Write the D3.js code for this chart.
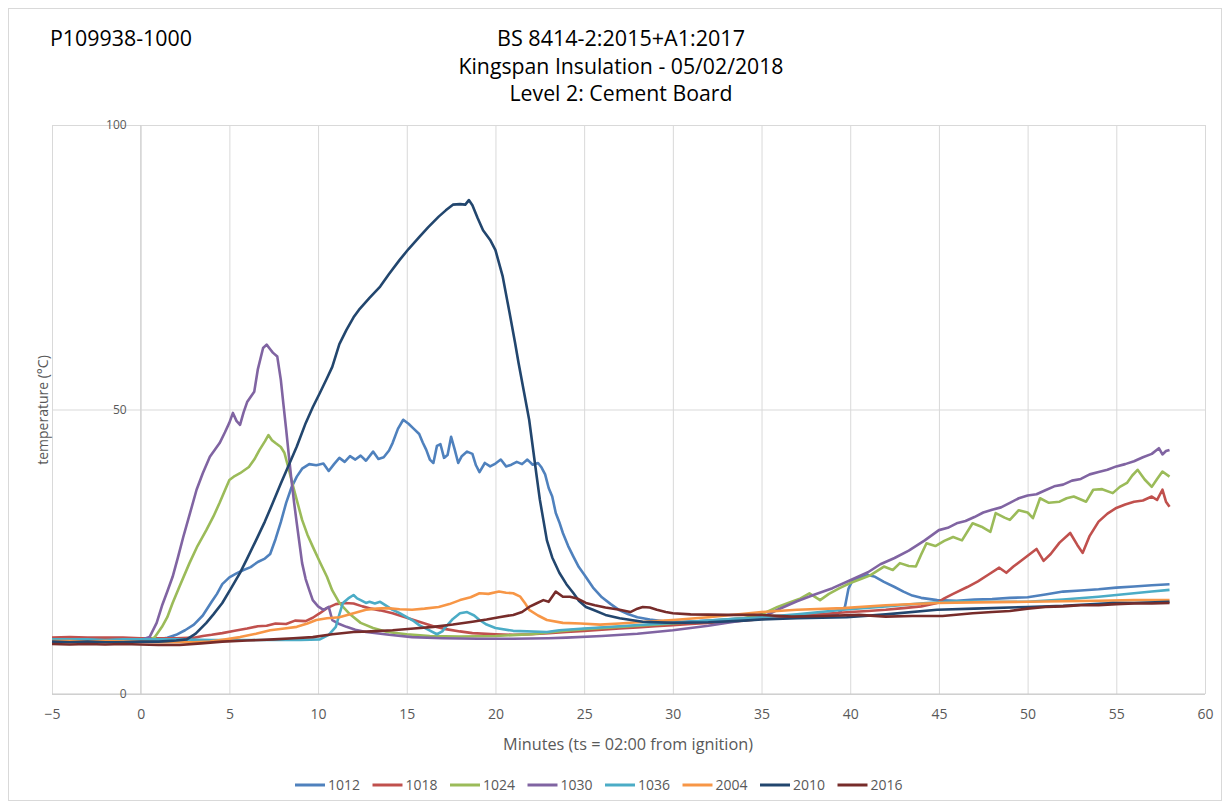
<!DOCTYPE html>
<html>
<head>
<meta charset="utf-8">
<script src="https://cdn.jsdelivr.net/npm/d3@7"></script>
<style>
  body { margin: 0; background: #fff; }
  svg { display: block; }
</style>
</head>
<body>
<script>
// thermocouple channels, [minutes, °C]
const s1012 = [[-5,9.6],[-4,9.7],[-3,9.6],[-2,9.6],[-1,9.5],[0,9.5],[1,9.6],[1.5,9.9],[2,10.4],[2.5,11.2],[3,12.2],[3.5,13.8],[4,16.2],[4.3,17.6],[4.6,19.3],[5,20.5],[5.4,21.2],[5.8,21.8],[6.2,22.3],[6.6,23.2],[7,23.8],[7.3,24.6],[7.6,27.2],[7.9,30.2],[8.2,33.6],[8.5,36.3],[8.8,38.2],[9.1,39.6],[9.5,40.4],[9.9,40.2],[10.3,40.5],[10.6,39.2],[10.9,40.4],[11.2,41.5],[11.5,40.8],[11.8,41.8],[12.1,41.2],[12.4,41.9],[12.7,41.0],[13.1,42.6],[13.4,41.3],[13.7,41.6],[14.0,42.8],[14.2,44.1],[14.5,46.6],[14.8,48.2],[15.1,47.5],[15.4,46.6],[15.7,45.7],[15.9,44.2],[16.1,42.9],[16.3,41.2],[16.5,40.6],[16.7,43.6],[16.9,43.9],[17.1,41.5],[17.3,42.0],[17.5,45.2],[17.7,43.0],[17.9,40.6],[18.1,41.8],[18.4,42.6],[18.7,42.2],[18.9,40.2],[19.1,39.0],[19.4,40.6],[19.7,40.0],[20.0,40.5],[20.3,41.2],[20.6,40.0],[20.9,40.3],[21.2,40.8],[21.5,40.4],[21.8,41.2],[22.1,40.3],[22.4,40.6],[22.6,39.8],[22.8,38.6],[23.0,36.2],[23.2,34.7],[23.4,31.8],[23.6,30.2],[23.8,28.3],[24.1,26.0],[24.4,24.1],[24.7,22.3],[25.0,21.0],[25.5,18.7],[26.0,17.0],[26.5,15.8],[27.0,14.7],[27.5,14.0],[28.0,13.5],[28.7,13.1],[29.5,12.8],[30.5,12.7],[31.5,12.8],[32.5,13.0],[33.5,13.2],[34.5,13.4],[35.5,13.6],[36.5,13.7],[37.5,13.8],[38.5,14.0],[39.3,14.1],[39.7,15.3],[39.9,18.5],[40.1,19.8],[40.5,20.4],[41.0,20.9],[41.4,20.6],[41.9,19.7],[42.5,18.8],[43.0,18.0],[43.5,17.3],[44.0,16.9],[44.9,16.5],[46,16.4],[47,16.6],[48,16.7],[49,16.9],[50,17.0],[51,17.5],[52,18.0],[53,18.2],[54,18.4],[55,18.7],[56,18.9],[57,19.1],[58,19.3]]
const s1018 = [[-5,9.9],[-4,10.0],[-3,9.9],[-2,9.9],[-1,9.9],[0,9.8],[1,9.8],[2,9.8],[3,9.9],[3.5,10.2],[4,10.4],[4.6,10.7],[5.3,11.1],[6,11.5],[6.6,11.9],[7.1,12.0],[7.6,12.4],[8.2,12.3],[8.7,12.9],[9.3,12.8],[9.7,13.4],[10.1,14.2],[10.5,15.1],[11,15.8],[11.5,16.0],[12,15.9],[12.5,15.4],[13,15.0],[13.5,14.7],[14.2,14.2],[15,13.4],[15.7,12.7],[16.5,11.9],[17.2,11.4],[18,11.0],[18.7,10.7],[20,10.5],[21,10.4],[22,10.5],[23,10.7],[24,10.9],[25,11.1],[26,11.3],[27,11.5],[28,11.7],[29,11.9],[30,12.1],[31,12.3],[32,12.5],[33,12.7],[34,12.9],[35,13.2],[36,13.4],[37,13.7],[38,13.9],[39,14.2],[40,14.4],[41,14.6],[42,14.8],[43,15.1],[44,15.4],[44.9,16.0],[45.3,16.8],[45.8,17.6],[46.6,18.8],[47.2,19.8],[47.8,21.0],[48.4,22.2],[48.8,21.3],[49.2,22.4],[49.8,23.8],[50.5,25.5],[50.9,23.4],[51.3,24.6],[51.8,26.6],[52.4,28.3],[52.8,26.2],[53.1,24.8],[53.5,27.8],[54,30.3],[54.5,31.7],[55,32.7],[55.5,33.3],[56,33.8],[56.5,34.0],[57,34.7],[57.3,34.1],[57.6,35.9],[57.8,33.8],[58,32.9]]
const s1024 = [[-5,9.4],[-4,9.5],[-3,9.4],[-2,9.4],[-1,9.3],[0,9.4],[0.5,9.5],[0.8,10.0],[1.2,11.8],[1.5,13.5],[1.8,16.0],[2.2,19.0],[2.75,23.0],[3.2,26.0],[3.7,28.8],[4.1,31.2],[4.45,33.6],[4.75,35.8],[5.0,37.6],[5.3,38.3],[5.6,38.8],[6.1,39.9],[6.4,41.2],[6.7,42.9],[7.0,44.4],[7.2,45.5],[7.4,44.6],[7.6,44.1],[7.9,43.4],[8.1,42.4],[8.35,39.5],[8.6,36.4],[8.85,33.5],[9.1,30.6],[9.4,28.0],[9.7,25.9],[10.1,23.2],[10.5,20.6],[10.8,18.2],[11.2,16.0],[11.8,14.0],[12.4,12.5],[13.1,11.6],[13.9,10.9],[15,10.5],[16.3,10.2],[18,10.1],[20,10.2],[22,10.5],[23.8,11.1],[25,11.4],[27,11.8],[30,12.4],[32,12.8],[34,13.3],[35,14.0],[35.9,15.3],[36.5,16.0],[37.2,16.8],[37.7,17.7],[38.3,16.5],[38.8,17.6],[39.4,18.6],[40,19.5],[40.6,20.2],[41.1,20.8],[41.5,21.6],[41.9,22.4],[42.4,21.8],[42.8,23.0],[43.3,22.5],[43.7,22.4],[44.0,24.5],[44.3,26.5],[44.8,26.0],[45.3,26.9],[45.8,27.6],[46.3,27.0],[46.9,30.0],[47.4,29.4],[47.9,28.5],[48.2,31.8],[48.7,31.0],[49.0,30.6],[49.5,32.3],[50.0,31.9],[50.3,30.9],[50.7,34.4],[51.2,33.6],[51.8,33.8],[52.2,34.4],[52.6,34.7],[53.3,33.8],[53.7,35.9],[54.2,36.0],[54.8,35.3],[55.2,36.4],[55.6,37.1],[55.9,38.4],[56.2,39.4],[56.6,37.7],[57.0,36.4],[57.3,37.8],[57.6,39.1],[58,38.2]]
const s1030 = [[-5,9.4],[-4,9.4],[-3,9.3],[-2,9.4],[-1,9.4],[0,9.5],[0.5,10.0],[0.9,12.5],[1.2,15.5],[1.5,18.0],[1.8,20.6],[2.1,24.0],[2.4,27.6],[2.8,32.0],[3.15,35.9],[3.5,38.8],[3.9,41.7],[4.2,43.0],[4.45,44.1],[4.75,46.0],[5.0,47.7],[5.2,49.4],[5.4,48.0],[5.6,47.3],[5.8,49.5],[6.0,51.3],[6.4,53.1],[6.6,57.0],[6.9,60.8],[7.1,61.4],[7.3,60.6],[7.45,60.0],[7.7,59.3],[7.9,55.2],[8.05,50.8],[8.2,46.5],[8.35,42.0],[8.5,37.6],[8.65,33.6],[8.8,30.0],[9.1,23.0],[9.3,20.2],[9.5,18.3],[9.7,16.5],[10.0,15.4],[10.3,14.8],[10.6,15.3],[10.8,13.0],[11.2,12.3],[11.6,11.8],[12.1,11.3],[12.7,10.9],[14,10.4],[15.3,10.0],[17,9.8],[19,9.7],[21,9.7],[23,9.8],[24,9.9],[26,10.2],[28,10.6],[30,11.2],[32,12.0],[33,12.5],[35,13.4],[35.9,14.8],[37,16.3],[38,17.5],[39,18.6],[40,20.0],[41,21.4],[41.7,22.8],[42.5,23.9],[43.3,25.2],[44.2,27.0],[45,28.8],[45.5,29.2],[46,30.0],[46.5,30.4],[47,31.1],[47.5,31.9],[48,32.4],[48.5,32.8],[49,33.6],[49.5,34.4],[50,34.9],[50.5,35.1],[51,35.8],[51.5,36.5],[52,36.8],[52.5,37.5],[53,37.8],[53.5,38.6],[54,39.0],[54.5,39.4],[55,40.0],[55.5,40.4],[56,40.9],[56.5,41.6],[57,42.2],[57.4,43.2],[57.6,42.1],[57.8,42.7],[58,42.9]]
const s1036 = [[-5,9.6],[-4,9.6],[-3,9.6],[-2,9.5],[-1,9.6],[0,9.6],[2,9.6],[4,9.5],[6,9.5],[8,9.5],[9,9.5],[10.1,9.6],[10.6,10.4],[11.0,11.8],[11.2,14.0],[11.4,16.0],[11.7,16.8],[12.0,17.4],[12.2,16.8],[12.4,16.5],[12.7,16.0],[12.9,16.2],[13.2,15.9],[13.5,16.2],[13.9,15.4],[14.2,14.8],[14.6,14.2],[15.0,13.5],[15.4,12.8],[15.7,12.1],[16.2,11.3],[16.7,10.5],[17.0,11.0],[17.2,11.8],[17.6,13.2],[18.0,14.2],[18.4,14.4],[18.8,13.8],[19.1,13.0],[19.5,12.2],[20.0,11.6],[21.0,11.1],[22.9,10.9],[23.6,11.2],[25,11.5],[27,11.9],[30,12.5],[32,12.9],[35,13.5],[37,14.0],[39.6,14.8],[42,15.4],[44.3,16.0],[46,16.3],[48,16.2],[50,16.2],[52,16.6],[54,17.1],[55,17.4],[56,17.7],[57,18.0],[58,18.3]]
const s2004 = [[-5,9.3],[-4,9.3],[-3,9.2],[-2,9.3],[-1,9.2],[0,9.2],[1,9.1],[2,9.1],[3,9.1],[3.9,9.2],[4.8,9.6],[5.6,10.0],[6.5,10.6],[7.3,11.2],[8.1,11.5],[8.8,11.8],[9.4,12.4],[9.9,13.0],[10.5,13.3],[11.2,13.5],[11.8,14.0],[12.7,14.8],[13.3,15.0],[13.9,15.1],[14.6,14.9],[15.3,14.8],[16,15.0],[16.8,15.3],[17.4,15.8],[18,16.5],[18.6,17.0],[19.1,17.7],[19.6,17.6],[20.2,18.0],[20.6,17.8],[21,17.7],[21.4,17.1],[21.7,15.8],[21.9,14.8],[22.4,13.8],[22.9,13.0],[23.8,12.5],[24.8,12.4],[25.9,12.2],[27,12.4],[28,12.6],[30,13.0],[32,13.5],[33,13.8],[35,14.4],[37,14.8],[39.6,15.1],[42,15.6],[44.9,16.0],[47,16.1],[50,16.2],[52,16.3],[54,16.4],[56,16.5],[58,16.5]]
const s2010 = [[-5,9.2],[-4,9.1],[-3,9.2],[-2,9.1],[-1,9.1],[0,9.2],[1,9.2],[1.5,9.3],[2,9.4],[2.6,9.6],[3.1,10.6],[3.7,12.5],[4.1,14.0],[4.6,16.0],[5.1,18.6],[5.6,21.3],[6.0,23.8],[6.5,27.0],[7.0,30.3],[7.45,33.6],[7.9,37.0],[8.4,40.6],[8.8,43.5],[9.3,47.6],[9.7,50.4],[10.1,52.9],[10.5,55.5],[10.8,57.5],[11.2,61.5],[11.6,64.0],[12.0,66.2],[12.3,67.5],[12.9,69.6],[13.5,71.6],[14.0,73.8],[14.6,76.3],[15.1,78.2],[15.7,80.3],[16.2,82.0],[16.8,83.9],[17.2,85.0],[17.6,86.0],[18.0,86.1],[18.3,86.0],[18.5,86.8],[18.7,85.9],[19.0,83.6],[19.3,81.5],[19.7,79.8],[20.0,78.0],[20.4,73.5],[20.8,66.9],[21.1,61.8],[21.3,58.2],[21.6,53.2],[21.9,48.2],[22.1,43.5],[22.3,38.8],[22.5,34.2],[22.7,30.6],[22.9,27.0],[23.2,24.0],[23.6,21.3],[24.0,19.3],[24.4,17.7],[24.7,16.4],[25.1,15.3],[25.5,14.8],[26.2,13.9],[27,13.3],[28.3,12.7],[30,12.5],[32,12.6],[34,12.9],[35,13.1],[37,13.3],[39.8,13.5],[42,14.0],[44.9,14.8],[47,15.0],[50,15.3],[52,15.5],[54.8,16.0],[56,16.0],[58,16.2]]
const s2016 = [[-5,8.8],[-4,8.7],[-3,8.8],[-2,8.7],[-1,8.8],[0,8.7],[1,8.6],[2.2,8.6],[3.4,8.9],[4.6,9.2],[6,9.4],[7.5,9.6],[8.6,9.8],[9.7,10.0],[10.8,10.5],[12,10.9],[13,11.0],[14.2,11.2],[15.4,11.5],[16.5,11.8],[17.6,12.2],[18.7,12.7],[19.5,13.1],[20.2,13.5],[21,13.9],[21.5,14.4],[21.9,15.3],[22.3,15.9],[22.7,16.5],[23.0,16.2],[23.4,18.0],[23.8,17.1],[24.2,17.1],[24.6,16.8],[25.1,16.0],[25.6,15.6],[26.2,15.2],[27,14.8],[27.6,14.4],[28,15.0],[28.3,15.3],[28.7,15.2],[29.1,14.8],[29.6,14.4],[30,14.2],[31,14.0],[33,13.9],[35,13.9],[36.7,13.6],[38.5,13.7],[40.5,13.9],[42,13.6],[43.5,13.7],[45.2,13.7],[46.9,14.2],[48,14.4],[49,14.6],[50,15.0],[51,15.3],[52,15.4],[53,15.6],[54,15.6],[55,15.8],[56,15.9],[57,15.9],[58,16.0]]

const names = ["1012", "1018", "1024", "1030", "1036", "2004", "2010", "2016"]
const seriesData = [s1012, s1018, s1024, s1030, s1036, s2004, s2010, s2016]
const colors = ["#4f81bd", "#c0504d", "#9bbb59", "#8064a2", "#4bacc6", "#f79646", "#22466e", "#772c2a"]
const xTicks = [-5, 0, 5, 10, 15, 20, 25, 30, 35, 40, 45, 50, 55, 60]
const yTicks = [0, 50, 100]
const titleLines = ["BS 8414-2:2015+A1:2017", "Kingspan Insulation  - 05/02/2018", "Level 2: Cement Board"]

let w = 1230
let h = 805
let pLeft = 52, pRight = 1205, pTop = 125, pBottom = 694
let narrow = "'Liberation Sans Narrow', 'Open Sans', sans-serif"

let svg = d3.select("body").append("svg")
    .attr("width", w)
    .attr("height", h)

svg.append("rect")
    .attr("x", 8.5).attr("y", 8.5)
    .attr("width", 1213).attr("height", 792)
    .attr("fill", "#fff")
    .attr("stroke", "#d9d9d9")

let xScale = d3.scaleLinear().domain([-5, 60]).range([pLeft, pRight])
let yScale = d3.scaleLinear().domain([0, 100]).range([pBottom, pTop])

// grid
svg.append("g")
    .attr("transform", "translate(0," + pBottom + ")")
    .call(d3.axisBottom(xScale).tickValues(xTicks).tickSize(-(pBottom - pTop)).tickFormat(""))
    .call(g => g.select(".domain").remove())
    .call(g => g.selectAll("line").attr("stroke", "#d9d9d9"))
svg.append("g")
    .attr("transform", "translate(" + pLeft + ",0)")
    .call(d3.axisLeft(yScale).tickValues(yTicks).tickSize(-(pRight - pLeft)).tickFormat(""))
    .call(g => g.select(".domain").remove())
    .call(g => g.selectAll("line").attr("stroke", "#d9d9d9"))

// axis lines
svg.append("line")
    .attr("x1", pLeft).attr("x2", pRight)
    .attr("y1", yScale(0)).attr("y2", yScale(0))
    .attr("stroke", "#c8c8c8")
svg.append("line")
    .attr("x1", xScale(0)).attr("x2", xScale(0))
    .attr("y1", pTop).attr("y2", pBottom)
    .attr("stroke", "#d0d0d0")

// tick labels
svg.append("g")
    .attr("transform", "translate(0," + pBottom + ")")
    .call(d3.axisBottom(xScale).tickValues(xTicks).tickSize(0).tickPadding(15))
    .call(g => g.select(".domain").remove())
    .call(g => g.selectAll("text")
        .attr("fill", "#595959")
        .style("font-family", narrow)
        .style("font-size", "14px"))
svg.append("g")
    .attr("transform", "translate(" + xScale(0) + ",0)")
    .call(d3.axisLeft(yScale).tickValues(yTicks).tickSize(0).tickPadding(14))
    .call(g => g.select(".domain").remove())
    .call(g => g.selectAll("text")
        .attr("fill", "#595959")
        .style("font-family", "'Open Sans', sans-serif")
        .style("font-size", "12px"))

// series
let line = d3.line()
    .x(d => xScale(d[0]))
    .y(d => yScale(d[1]))

svg.append("g").selectAll("path")
    .data(seriesData)
    .enter()
    .append("path")
    .attr("d", d => line(d))
    .attr("fill", "none")
    .attr("stroke", (d, i) => colors[i])
    .attr("stroke-width", 2.6)
    .attr("stroke-linejoin", "round")

// titles
svg.append("text")
    .attr("x", 50).attr("y", 46)
    .attr("textLength", 142)
    .attr("lengthAdjust", "spacingAndGlyphs")
    .style("font-family", narrow)
    .style("font-size", "22px")
    .text("P109938-1000")

let titleW = [248, 325, 223]
svg.append("g").selectAll("text")
    .data(titleLines)
    .enter()
    .append("text")
    .attr("x", 621)
    .attr("y", (d, i) => 46 + i * 27.5)
    .attr("text-anchor", "middle")
    .attr("textLength", (d, i) => titleW[i])
    .attr("lengthAdjust", "spacingAndGlyphs")
    .style("font-family", narrow)
    .style("font-size", "21px")
    .text(d => d)

svg.append("text")
    .attr("x", 628).attr("y", 750)
    .attr("text-anchor", "middle")
    .attr("textLength", 250)
    .attr("lengthAdjust", "spacingAndGlyphs")
    .attr("fill", "#595959")
    .style("font-family", narrow)
    .style("font-size", "17px")
    .text("Minutes (ts = 02:00 from ignition)")

svg.append("text")
    .attr("transform", "translate(48,410) rotate(-90)")
    .attr("text-anchor", "middle")
    .attr("fill", "#595959")
    .style("font-family", "'Open Sans', sans-serif")
    .style("font-size", "14px")
    .text("temperature (°C)")

// legend
let legend = svg.append("g")
    .selectAll("g")
    .data(names)
    .enter()
    .append("g")
    .attr("transform", (d, i) => "translate(" + (295 + i * 77.5) + ",785)")
legend.append("line")
    .attr("x1", 0).attr("x2", 30)
    .attr("stroke", (d, i) => colors[i])
    .attr("stroke-width", 3)
legend.append("text")
    .attr("x", 33).attr("y", 5)
    .attr("fill", "#595959")
    .style("font-family", narrow)
    .style("font-size", "14px")
    .text(d => d)
</script>
</body>
</html>
